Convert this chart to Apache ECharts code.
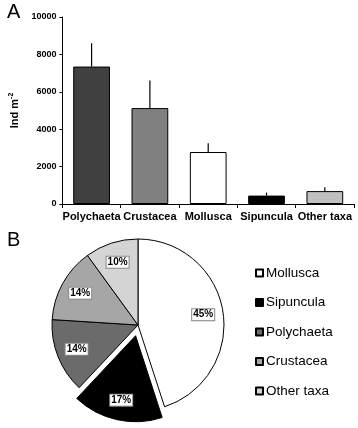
<!DOCTYPE html>
<html>
<head>
<meta charset="utf-8">
<script src="https://cdn.jsdelivr.net/npm/echarts@6/dist/echarts.min.js"></script>
<style>html,body{margin:0;padding:0;background:#fff}#c{width:358px;height:428px}</style>
</head>
<body>
<div id="c"></div>
<script>
const categories = ['Polychaeta', 'Crustacea', 'Mollusca', 'Sipuncula', 'Other taxa'];
const meanDensity = [7350, 5130, 2780, 450, 690];
const upperError = [8600, 6600, 3250, 610, 890];
const yTicks = [0, 2000, 4000, 6000, 8000, 10000];
const barColors = ['#404040', '#808080', '#ffffff', '#000000', '#c0c0c0'];

const pieNames = ['Mollusca', 'Sipuncula', 'Polychaeta', 'Crustacea', 'Other taxa'];
const piePercent = [45, 17, 14, 14, 10];
const pieColors = ['#ffffff', '#000000', '#6b6b6b', '#a6a6a6', '#d4d4d4'];
const pieExploded = ['Sipuncula'];

const FONT = "'Liberation Sans', Arial, sans-serif";
const chart = echarts.init(document.getElementById('c'), null, {renderer: 'canvas'});

const pieData = pieNames.map((n, i) => ({
  name: n, value: piePercent[i], selected: pieExploded.includes(n),
  itemStyle: {color: pieColors[i]}
}));
const pieLabelData = pieNames.map((n, i) => ({
  name: n, value: piePercent[i], selected: pieExploded.includes(n)
}));

chart.setOption({
  animation: false,
  textStyle: {fontFamily: FONT},
  title: [
    {text: 'A', left: 2, top: -3, textStyle: {fontFamily: FONT, fontSize: 20, fontWeight: 'normal', color: '#000'}},
    {text: 'B', left: 2, top: 225, textStyle: {fontFamily: FONT, fontSize: 20, fontWeight: 'normal', color: '#000'}}
  ],
  grid: {left: 52, right: 4, top: 17, bottom: 224},
  xAxis: {
    type: 'category', data: categories,
    axisLine: {lineStyle: {color: '#000', width: 1}},
    axisTick: {show: true, length: 4, lineStyle: {color: '#000'}},
    axisLabel: {color: '#000', fontFamily: FONT, fontWeight: 'bold', fontSize: 11, margin: 7, interval: 0, hideOverlap: false}
  },
  yAxis: {
    type: 'value', min: yTicks[0], max: yTicks[yTicks.length - 1], interval: yTicks[1] - yTicks[0],
    splitLine: {show: false},
    axisLine: {show: true, lineStyle: {color: '#000', width: 1}},
    axisTick: {show: true, length: 3, lineStyle: {color: '#000'}},
    axisLabel: {color: '#000', fontFamily: FONT, fontWeight: 'bold', fontSize: 9, margin: 6, formatter: v => String(v)},
    name: '{a|Ind m}{s|-2}',
    nameLocation: 'middle', nameGap: 36,
    nameTextStyle: {
      rich: {
        a: {fontFamily: FONT, fontWeight: 'bold', fontSize: 11, color: '#000', lineHeight: 14},
        s: {fontFamily: FONT, fontWeight: 'bold', fontSize: 7, color: '#000', lineHeight: 14, verticalAlign: 'top', padding: [0, 0, 5, 0]}
      }
    }
  },
  legend: {
    orient: 'vertical', left: 250, top: 261,
    data: pieNames,
    itemWidth: 7, itemHeight: 7, itemGap: 15.5,
    icon: 'rect',
    textStyle: {fontFamily: FONT, fontSize: 13.5, color: '#000', lineHeight: 14, padding: [0, 0, 0, -2]},
    selectedMode: false
  },
  series: [
    {
      type: 'bar', data: meanDensity.map((v, i) => ({value: v, itemStyle: {color: barColors[i]}})),
      barWidth: '63%',
      itemStyle: {borderColor: '#000', borderWidth: 1},
      z: 2
    },
    {
      type: 'custom',
      data: meanDensity.map((v, i) => [i, v, upperError[i]]),
      renderItem: function (params, api) {
        const p0 = api.coord([api.value(0), api.value(1)]);
        const p1 = api.coord([api.value(0), api.value(2)]);
        return {type: 'line', shape: {x1: p0[0], y1: p0[1], x2: p1[0], y2: p1[1]}, style: {stroke: '#000', lineWidth: 1.2}};
      },
      z: 1
    },
    {
      type: 'pie', name: 'pie',
      center: [138, 325], radius: [0, 86],
      startAngle: 90, clockwise: true,
      selectedMode: 'single', selectedOffset: 11,
      data: pieData,
      itemStyle: {borderColor: '#000', borderWidth: 1},
      label: {show: false}, labelLine: {show: false},
      emphasis: {disabled: true}
    },
    {
      type: 'pie', name: 'pieLabels',
      center: [138, 325], radius: [40, 86],
      startAngle: 90, clockwise: true,
      selectedMode: 'single', selectedOffset: 11,
      data: pieLabelData,
      legendHoverLink: false,
      itemStyle: {color: 'rgba(0,0,0,0)', borderWidth: 0},
      label: {
        show: true, position: 'inside', formatter: '{c}%',
        fontFamily: FONT, fontWeight: 'bold', fontSize: 10, color: '#000',
        backgroundColor: '#fff', borderColor: '#888', borderWidth: 1, padding: [1, 1, 0, 1]
      },
      labelLine: {show: false},
      emphasis: {disabled: true},
      z: 3
    }
  ]
});
</script>
</body>
</html>
